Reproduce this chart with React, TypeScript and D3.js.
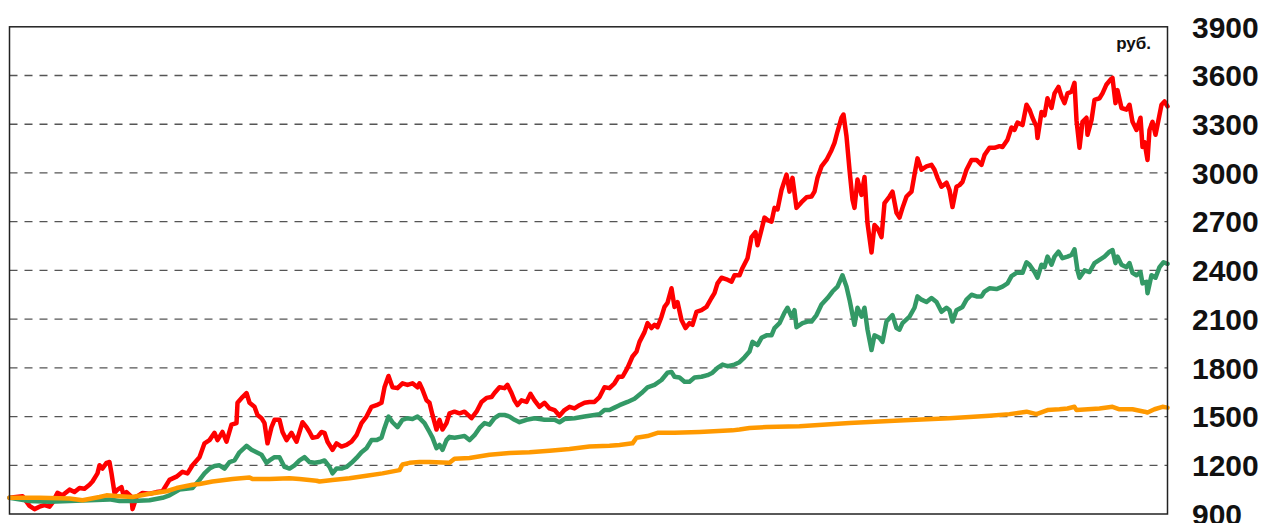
import * as d3 from 'd3'

type Pt = [number, number]

// y axis ticks (rub.)
const yTicks = [900, 1200, 1500, 1800, 2100, 2400, 2700, 3000, 3300, 3600, 3900]
const unitLabel = 'руб.'

// [time index, value]
const redSeries: Pt[] = [
  [0, 1000], [13, 1010], [20, 950], [25, 930], [30, 945], [35, 955], [40, 945], [43, 970], [48, 1030], [53, 1015],
  [60, 1050], [65, 1035], [70, 1060], [75, 1055], [80, 1080], [83, 1100], [88, 1150], [90, 1200], [93, 1180], [97, 1215],
  [100, 1220], [102, 1150], [105, 1030], [108, 1050], [112, 1065], [114, 1015], [117, 1035], [122, 1005], [123, 930], [127, 1005],
  [133, 1030], [140, 1025], [147, 1035], [153, 1040], [160, 1110], [167, 1130], [173, 1160], [178, 1150], [183, 1200], [190, 1250],
  [195, 1335], [200, 1355], [205, 1400], [208, 1355], [213, 1405], [217, 1345], [222, 1450], [227, 1460], [228, 1585], [233, 1620],
  [237, 1645], [240, 1585], [245, 1560], [248, 1510], [252, 1490], [255, 1460], [258, 1335], [262, 1435], [265, 1480], [270, 1480],
  [273, 1405], [277, 1355], [282, 1400], [287, 1345], [290, 1405], [293, 1465], [297, 1435], [300, 1405], [303, 1370], [308, 1375],
  [312, 1405], [315, 1400], [318, 1345], [323, 1295], [327, 1335], [332, 1315], [337, 1325], [342, 1345], [347, 1385], [352, 1460],
  [357, 1500], [362, 1560], [367, 1570], [372, 1585], [375, 1680], [379, 1750], [383, 1680], [388, 1675], [393, 1705], [398, 1695],
  [403, 1705], [408, 1680], [410, 1705], [413, 1665], [417, 1600], [420, 1585], [423, 1510], [427, 1420], [430, 1480], [433, 1420],
  [437, 1460], [440, 1520], [445, 1530], [450, 1520], [455, 1530], [462, 1490], [467, 1530], [472, 1590], [477, 1615], [482, 1620],
  [485, 1645], [490, 1680], [495, 1675], [498, 1695], [502, 1645], [505, 1600], [508, 1570], [512, 1600], [517, 1590], [521, 1640],
  [525, 1600], [530, 1560], [535, 1585], [540, 1550], [545, 1540], [550, 1505], [555, 1540], [560, 1560], [565, 1550], [570, 1570],
  [575, 1585], [580, 1590], [585, 1590], [590, 1620], [595, 1680], [600, 1675], [605, 1705], [609, 1745], [613, 1745], [618, 1800],
  [623, 1870], [627, 1900], [630, 1960], [635, 2020], [638, 2075], [642, 2045], [645, 2065], [648, 2050], [652, 2115], [655, 2175],
  [658, 2200], [662, 2290], [665, 2175], [668, 2205], [672, 2095], [676, 2045], [680, 2075], [683, 2065], [687, 2145], [692, 2155],
  [697, 2175], [702, 2230], [705, 2260], [708, 2320], [712, 2355], [717, 2345], [722, 2330], [725, 2370], [730, 2370], [733, 2415],
  [738, 2475], [742, 2605], [746, 2635], [748, 2555], [752, 2650], [755, 2725], [758, 2710], [762, 2700], [765, 2785], [768, 2775],
  [772, 2895], [777, 2990], [780, 2885], [783, 2970], [787, 2785], [792, 2820], [797, 2850], [802, 2855], [805, 2885], [808, 2970],
  [812, 3040], [817, 3080], [822, 3140], [825, 3185], [828, 3255], [832, 3340], [834, 3360], [837, 3225], [840, 3020], [843, 2835],
  [845, 2785], [848, 2960], [852, 2865], [855, 2975], [858, 2690], [862, 2510], [865, 2680], [868, 2660], [872, 2605], [875, 2815],
  [880, 2855], [883, 2885], [887, 2755], [890, 2725], [893, 2785], [897, 2855], [902, 2885], [905, 2990], [908, 3090], [912, 3020],
  [917, 3040], [922, 3050], [925, 3020], [928, 2970], [932, 2915], [937, 2940], [940, 2895], [943, 2790], [947, 2915], [950, 2925],
  [953, 2945], [957, 3020], [962, 3080], [967, 3080], [972, 3050], [975, 3110], [980, 3155], [985, 3155], [990, 3165], [993, 3160],
  [998, 3205], [1002, 3280], [1005, 3265], [1008, 3310], [1013, 3295], [1017, 3420], [1020, 3390], [1023, 3340], [1027, 3285], [1028, 3215],
  [1032, 3375], [1035, 3355], [1038, 3460], [1042, 3400], [1045, 3490], [1049, 3530], [1052, 3470], [1055, 3430], [1058, 3490], [1062, 3500],
  [1065, 3555], [1067, 3325], [1070, 3155], [1073, 3315], [1077, 3340], [1078, 3235], [1082, 3325], [1085, 3450], [1090, 3460], [1093, 3490],
  [1097, 3545], [1101, 3575], [1103, 3585], [1106, 3430], [1108, 3510], [1112, 3400], [1117, 3390], [1120, 3420], [1123, 3315], [1127, 3265],
  [1131, 3340], [1133, 3160], [1135, 3190], [1138, 3080], [1140, 3265], [1143, 3315], [1146, 3235], [1148, 3295], [1152, 3420], [1155, 3440],
  [1158, 3410]
]

const greenSeries: Pt[] = [
  [0, 1000], [20, 980], [40, 975], [60, 980], [80, 985], [100, 990], [110, 980], [123, 980], [140, 985], [153, 1000],
  [160, 1015], [170, 1050], [183, 1060], [190, 1110], [195, 1150], [200, 1180], [205, 1195], [210, 1200], [215, 1180], [220, 1220],
  [225, 1230], [230, 1280], [237, 1320], [242, 1295], [247, 1280], [252, 1265], [257, 1215], [260, 1230], [265, 1250], [270, 1250],
  [275, 1190], [280, 1180], [285, 1200], [290, 1230], [295, 1250], [300, 1220], [305, 1215], [310, 1220], [315, 1230], [320, 1190],
  [323, 1150], [327, 1180], [332, 1180], [337, 1190], [342, 1215], [347, 1245], [352, 1280], [357, 1305], [362, 1355], [367, 1355],
  [372, 1370], [375, 1430], [379, 1500], [383, 1465], [388, 1435], [393, 1480], [398, 1490], [403, 1485], [408, 1500], [410, 1490],
  [415, 1460], [420, 1405], [423, 1370], [427, 1305], [430, 1325], [433, 1295], [437, 1355], [440, 1375], [445, 1370], [450, 1375],
  [455, 1380], [460, 1355], [465, 1385], [470, 1430], [475, 1460], [480, 1450], [485, 1490], [490, 1510], [495, 1510], [500, 1500],
  [505, 1480], [510, 1465], [517, 1480], [525, 1490], [535, 1480], [545, 1480], [550, 1465], [555, 1485], [565, 1490], [575, 1500],
  [585, 1510], [590, 1515], [595, 1540], [600, 1540], [605, 1555], [610, 1570], [618, 1590], [625, 1610], [632, 1645], [638, 1680],
  [645, 1695], [652, 1725], [658, 1770], [662, 1775], [665, 1745], [670, 1740], [675, 1715], [680, 1715], [685, 1740], [692, 1745],
  [698, 1755], [703, 1770], [708, 1800], [713, 1820], [718, 1810], [725, 1820], [730, 1835], [735, 1865], [740, 1900], [743, 1960],
  [748, 1940], [752, 1985], [757, 2000], [762, 2000], [765, 2045], [770, 2075], [775, 2140], [778, 2170], [782, 2115], [785, 2155],
  [787, 2050], [793, 2075], [798, 2085], [802, 2085], [807, 2125], [812, 2190], [818, 2230], [823, 2270], [828, 2300], [833, 2370],
  [837, 2300], [840, 2220], [845, 2065], [848, 2170], [852, 2115], [855, 2170], [858, 2035], [862, 1910], [865, 2000], [870, 1985],
  [873, 1960], [877, 2085], [883, 2125], [887, 2045], [890, 2035], [893, 2075], [900, 2115], [905, 2170], [908, 2240], [912, 2220],
  [917, 2205], [922, 2230], [927, 2205], [932, 2145], [937, 2170], [940, 2155], [943, 2085], [947, 2155], [953, 2175], [957, 2220],
  [962, 2250], [967, 2240], [972, 2240], [975, 2270], [980, 2290], [987, 2285], [993, 2300], [998, 2320], [1002, 2365], [1007, 2385],
  [1013, 2385], [1017, 2450], [1020, 2435], [1025, 2390], [1028, 2355], [1032, 2435], [1035, 2420], [1038, 2485], [1042, 2435], [1045, 2485],
  [1049, 2515], [1053, 2475], [1058, 2485], [1062, 2495], [1065, 2530], [1068, 2400], [1070, 2355], [1075, 2400], [1080, 2390], [1085, 2445],
  [1090, 2465], [1095, 2485], [1100, 2515], [1103, 2525], [1106, 2445], [1108, 2485], [1112, 2435], [1117, 2420], [1120, 2445], [1123, 2385],
  [1127, 2370], [1131, 2390], [1133, 2320], [1137, 2330], [1138, 2260], [1142, 2370], [1146, 2355], [1150, 2420], [1154, 2450], [1158, 2440]
]

const orangeSeries: Pt[] = [
  [0, 1000], [30, 1000], [60, 995], [73, 985], [90, 1005], [97, 1015], [110, 1010], [123, 1005], [140, 1025], [157, 1040],
  [167, 1060], [183, 1080], [190, 1085], [203, 1100], [223, 1115], [240, 1125], [243, 1115], [260, 1115], [280, 1120], [290, 1115],
  [307, 1105], [310, 1100], [323, 1110], [340, 1120], [357, 1135], [373, 1150], [390, 1170], [393, 1205], [400, 1215], [410, 1220],
  [420, 1220], [440, 1215], [445, 1240], [460, 1245], [480, 1265], [500, 1275], [520, 1280], [540, 1290], [560, 1300], [580, 1315],
  [600, 1320], [610, 1325], [623, 1335], [627, 1370], [638, 1380], [648, 1400], [665, 1400], [690, 1405], [723, 1415], [730, 1420],
  [740, 1430], [757, 1435], [790, 1440], [840, 1460], [890, 1475], [940, 1490], [980, 1505], [1000, 1515], [1017, 1530], [1027, 1515],
  [1038, 1540], [1050, 1545], [1058, 1550], [1065, 1560], [1067, 1540], [1090, 1550], [1103, 1560], [1110, 1545], [1123, 1545], [1135, 1530],
  [1138, 1525], [1145, 1545], [1153, 1560], [1158, 1555]
]

const series = [
  { name: 'red', data: redSeries, color: '#ff0000' },
  { name: 'green', data: greenSeries, color: '#339966' },
  { name: 'orange', data: orangeSeries, color: '#ff9900' }
]

export default function App() {
  const width = 1262
  const height = 523
  const plot = { left: 9.5, right: 1167.5, top: 26.8, bottom: 514 }

  const x = d3.scaleLinear().domain([0, 1158]).range([plot.left, plot.right])
  const y = d3.scaleLinear().domain([900, 3900]).range([plot.bottom, plot.top])

  const line = d3.line<Pt>()
    .x(d => x(d[0]))
    .y(d => y(d[1]))

  const gridTicks = yTicks.filter(t => t > 900 && t < 3900)

  return (
    <svg
      width={width}
      height={height}
      style={{ position: 'absolute', left: 0, top: 0, background: '#fff' }}
      fontFamily="'Liberation Sans', Arial, sans-serif"
    >
      {/* gridlines */}
      {gridTicks.map(t => (
        <line
          key={t}
          x1={plot.left}
          x2={plot.right}
          y1={y(t)}
          y2={y(t)}
          stroke="#555"
          strokeWidth={1.3}
          strokeDasharray="8,7"
        />
      ))}

      {/* series */}
      {series.map(s => (
        <path
          key={s.name}
          d={line(s.data) ?? ''}
          fill="none"
          stroke={s.color}
          strokeWidth={4.5}
          strokeLinejoin="round"
          strokeLinecap="round"
        />
      ))}

      {/* frame */}
      <rect
        x={plot.left}
        y={plot.top}
        width={plot.right - plot.left}
        height={plot.bottom - plot.top}
        fill="none"
        stroke="#222"
        strokeWidth={1.5}
      />

      {/* y labels on the right (900 is cut by the bottom edge, as in the reference) */}
      {yTicks.map(t => (
        <text
          key={t}
          x={1192}
          y={y(t)}
          dy="0.36em"
          fontSize={30}
          fontWeight="bold"
          fill="#111"
        >
          {t}
        </text>
      ))}

      <text x={1151} y={49} textAnchor="end" fontSize={17} fontWeight="bold" fill="#111">
        {unitLabel}
      </text>
    </svg>
  )
}
